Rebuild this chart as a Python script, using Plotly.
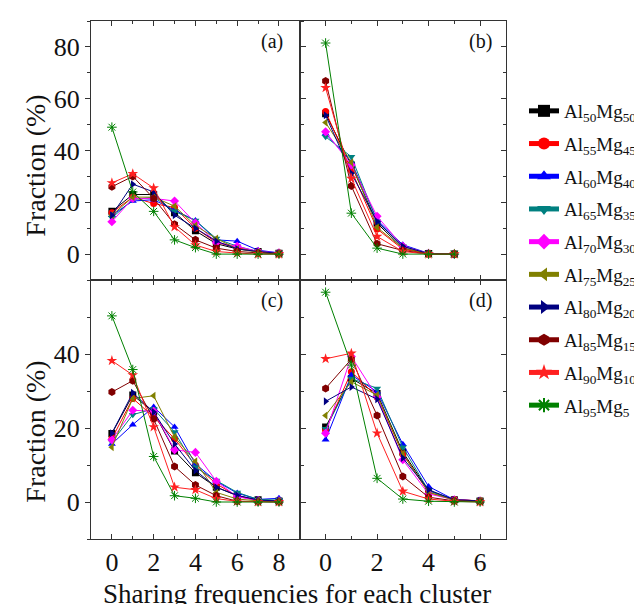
import plotly.graph_objects as go

# ---------------- data ----------------
series_names = ["Al<sub>50</sub>Mg<sub>50</sub>", "Al<sub>55</sub>Mg<sub>45</sub>",
                "Al<sub>60</sub>Mg<sub>40</sub>", "Al<sub>65</sub>Mg<sub>35</sub>",
                "Al<sub>70</sub>Mg<sub>30</sub>", "Al<sub>75</sub>Mg<sub>25</sub>",
                "Al<sub>80</sub>Mg<sub>20</sub>", "Al<sub>85</sub>Mg<sub>15</sub>",
                "Al<sub>90</sub>Mg<sub>10</sub>", "Al<sub>95</sub>Mg<sub>5</sub>"]

x_a = [0, 1, 2, 3, 4, 5, 6, 7, 8]
x_b = [0, 1, 2, 3, 4, 5]
x_c = [0, 1, 2, 3, 4, 5, 6, 7, 8]
x_d = [0, 1, 2, 3, 4, 5, 6]

panel_a = [
    [16.5, 23.0, 23.0, 16.0, 9.0, 4.0, 2.0, 1.0, 0.3],
    [16.0, 22.0, 19.5, 18.0, 10.0, 4.5, 2.5, 1.0, 0.3],
    [15.0, 20.5, 21.0, 17.0, 13.0, 5.5, 5.0, 1.5, 0.5],
    [14.0, 21.0, 22.0, 16.5, 13.0, 6.0, 3.0, 1.0, 0.3],
    [12.5, 21.5, 21.5, 20.5, 12.0, 4.5, 3.0, 1.0, 0.5],
    [15.0, 22.0, 22.0, 18.5, 11.0, 6.0, 2.0, 0.8, 0.3],
    [15.0, 27.0, 24.0, 15.0, 10.0, 5.0, 2.0, 1.0, 0.3],
    [26.0, 30.0, 21.5, 11.5, 5.5, 2.3, 1.0, 0.4, 0.0],
    [27.5, 31.0, 25.5, 10.5, 3.5, 1.0, 0.4, 0.0, 0.0],
    [49.0, 24.0, 16.5, 5.5, 2.5, 0.0, 0.0, 0.0, 0.0],
]

panel_b = [
    [54.2, 34.4, 11.9, 2.3, 0.2, 0.0],
    [55.1, 32.4, 9.7, 1.9, 0.1, 0.0],
    [46.5, 35.6, 13.2, 3.6, 0.3, 0.0],
    [45.3, 37.6, 12.6, 3.0, 0.3, 0.0],
    [47.2, 34.4, 14.6, 3.0, 0.3, 0.0],
    [50.8, 35.4, 10.3, 2.3, 0.2, 0.0],
    [53.6, 31.2, 12.6, 3.0, 0.2, 0.0],
    [66.8, 26.3, 4.0, 1.4, 0.0, 0.0],
    [64.2, 29.2, 6.8, 1.0, 0.0, 0.0],
    [81.5, 15.8, 2.3, 0.0, 0.0, 0.0],
]

panel_c = [
    [18.5, 28.9, 24.3, 13.8, 7.9, 4.0, 1.7, 0.6, 0.3],
    [17.1, 28.0, 23.0, 17.1, 9.9, 4.9, 1.6, 0.4, 0.2],
    [15.7, 20.9, 25.7, 20.3, 10.3, 5.6, 2.4, 0.7, 1.0],
    [16.2, 23.6, 25.2, 18.9, 9.4, 5.8, 2.6, 0.7, 0.5],
    [16.8, 24.8, 24.5, 14.1, 13.4, 5.6, 1.4, 0.4, 0.3],
    [14.8, 28.0, 28.7, 17.6, 11.0, 2.6, 0.8, 0.3, 0.2],
    [18.6, 29.5, 24.3, 15.7, 8.5, 4.0, 1.8, 0.5, 0.3],
    [29.7, 32.8, 22.4, 9.6, 4.6, 1.7, 0.2, 0.0, 0.0],
    [38.2, 34.3, 20.3, 4.0, 3.3, 0.9, 0.2, 0.0, 0.0],
    [50.3, 35.8, 12.3, 1.7, 1.0, 0.0, 0.0, 0.0, 0.0],
]

panel_d = [
    [20.3, 33.4, 29.3, 13.5, 3.1, 0.6, 0.3],
    [19.4, 35.2, 28.4, 13.0, 2.6, 0.7, 0.3],
    [16.8, 34.3, 29.8, 15.6, 4.2, 0.6, 0.3],
    [19.8, 33.4, 30.7, 14.8, 3.1, 0.5, 0.3],
    [18.6, 39.3, 28.4, 11.4, 2.2, 0.6, 0.3],
    [23.4, 32.5, 28.9, 13.0, 2.6, 0.5, 0.3],
    [27.2, 31.1, 27.8, 11.9, 3.3, 0.6, 0.3],
    [30.7, 38.6, 23.4, 6.9, 1.3, 0.3, 0.1],
    [38.7, 40.2, 18.6, 2.9, 0.8, 0.2, 0.0],
    [56.7, 37.0, 6.4, 0.8, 0.2, 0.0, 0.0],
]

y_title = "Fraction (%)"
x_title = "Sharing frequencies for each cluster"
panel_tags = ["(a)", "(b)", "(c)", "(d)"]

colors = ["#000000", "#FF0000", "#0000FF", "#008080", "#FF00FF",
          "#808000", "#000080", "#800000", "#FF2020", "#008000"]
symbols = ["square", "circle", "triangle-up", "triangle-down", "diamond",
           "triangle-left", "triangle-right", "hexagon", "star", "asterisk-open"]

FONT = "Liberation Serif"

# ---------------- figure ----------------
fig = go.Figure()

panels = [
    (x_a, panel_a, "x", "y"),
    (x_b, panel_b, "x2", "y2"),
    (x_c, panel_c, "x3", "y3"),
    (x_d, panel_d, "x4", "y4"),
]

for pi, (xs, data, xa, ya) in enumerate(panels):
    for si, name in enumerate(series_names):
        sym = symbols[si]
        col = colors[si]
        size = 8 if sym in ("star", "asterisk-open", "hexagon") else 7
        fig.add_trace(go.Scatter(
            x=xs, y=data[si], xaxis=xa, yaxis=ya,
            mode="lines+markers", name=name, legendgroup=name,
            showlegend=(pi == 0),
            line=dict(color=col, width=1),
            marker=dict(symbol=sym, color=col, size=size,
                        line=dict(color=col, width=1 if sym == "asterisk-open" else 0)),
        ))

W, H = 642, 604
ML, MR, MT, MB = 83, 132, 13, 73
PW, PH = W - ML - MR, H - MT - MB
xsplit = (298 - ML) / PW

axis_common = dict(showline=True, linecolor="#333", linewidth=1.2, mirror="ticks",
                   showgrid=False, zeroline=False, tickcolor="#333",
                   tickfont=dict(family=FONT, size=26, color="#111"))

xminor = dict(ticks="inside", ticklen=3, tickcolor="#333", showgrid=False)
fig.update_layout(
    width=W, height=H,
    paper_bgcolor="white", plot_bgcolor="white",
    margin=dict(l=ML, r=MR, t=MT, b=MB),
    font=dict(family=FONT, color="#111"),
    xaxis=dict(domain=[0, xsplit], anchor="y", range=[-1, 9], tickmode="linear", tick0=0, dtick=2,
               ticks="inside", ticklen=5, showticklabels=False,
               minor=dict(xminor, tickmode="linear", tick0=1, dtick=2), **axis_common),
    yaxis=dict(domain=[0.5, 1], anchor="x", range=[-10, 90], tickmode="array",
               tickvals=[0, 20, 40, 60, 80], ticks="outside", ticklen=5,
               minor=dict(ticks="outside", ticklen=3, tickcolor="#333", tickmode="array",
                          tickvals=[-10, 10, 30, 50, 70, 90]),
               **axis_common),
    xaxis2=dict(domain=[xsplit, 1], anchor="y2", range=[-1, 7], tickmode="linear", tick0=0, dtick=2,
                ticks="inside", ticklen=5, showticklabels=False,
                minor=dict(xminor, tickmode="linear", tick0=1, dtick=2), **axis_common),
    yaxis2=dict(domain=[0.5, 1], anchor="x2", range=[-10, 90], tickmode="array",
                tickvals=[0, 20, 40, 60, 80], ticks="inside", ticklen=5, showticklabels=False,
                minor=dict(ticks="inside", ticklen=3, tickcolor="#333", tickmode="array",
                           tickvals=[-10, 10, 30, 50, 70, 90]),
                **axis_common),
    xaxis3=dict(domain=[0, xsplit], anchor="y3", range=[-1, 9], tickmode="linear", tick0=0, dtick=2,
                ticks="inside", ticklen=5,
                minor=dict(xminor, tickmode="linear", tick0=1, dtick=2), **axis_common),
    yaxis3=dict(domain=[0, 0.5], anchor="x3", range=[-10, 60], tickmode="array",
                tickvals=[0, 20, 40], ticks="outside", ticklen=5,
                minor=dict(ticks="outside", ticklen=3, tickcolor="#333", tickmode="array",
                           tickvals=[-10, 10, 30, 50]),
                **axis_common),
    xaxis4=dict(domain=[xsplit, 1], anchor="y4", range=[-1, 7], tickmode="linear", tick0=0, dtick=2,
                ticks="inside", ticklen=5,
                minor=dict(xminor, tickmode="linear", tick0=1, dtick=2), **axis_common),
    yaxis4=dict(domain=[0, 0.5], anchor="x4", range=[-10, 60], tickmode="array",
                tickvals=[0, 20, 40], ticks="inside", ticklen=5, showticklabels=False,
                minor=dict(ticks="inside", ticklen=3, tickcolor="#333", tickmode="array",
                           tickvals=[-10, 10, 30, 50]),
                **axis_common),
    legend=dict(xref="container", yref="container", x=516 / W, y=1 - 84 / H,
                xanchor="left", yanchor="top", font=dict(family=FONT, size=19, color="#111"),
                itemsizing="constant", tracegroupgap=5, bgcolor="rgba(0,0,0,0)",
                traceorder="grouped", maxheight=560),
    showlegend=True,
)

def px_x(px):
    return (px - ML) / PW

def px_y(py):
    return (H - MB - py) / PH

tag_pos = [(282.5, 20), (497.5, 20), (282.5, 279), (497.5, 279)]
for txt, (tx, ty) in zip(panel_tags, tag_pos):
    fig.add_annotation(text=txt, xref="paper", yref="paper", x=px_x(tx), y=px_y(ty),
                       xanchor="right", yanchor="top", showarrow=False,
                       font=dict(family=FONT, size=20, color="#111"))

for cy in (158, 424):
    fig.add_annotation(text=y_title, xref="paper", yref="paper", x=px_x(25), y=px_y(cy),
                       xanchor="center", yanchor="middle", textangle=-90, showarrow=False,
                       font=dict(family=FONT, size=28, color="#111"))

fig.add_annotation(text=x_title, xref="paper", yref="paper",
                   x=px_x(295), y=px_y(586),
                   xanchor="center", yanchor="middle", showarrow=False,
                   font=dict(family=FONT, size=27, color="#111"))

fig.write_html("out.html")
